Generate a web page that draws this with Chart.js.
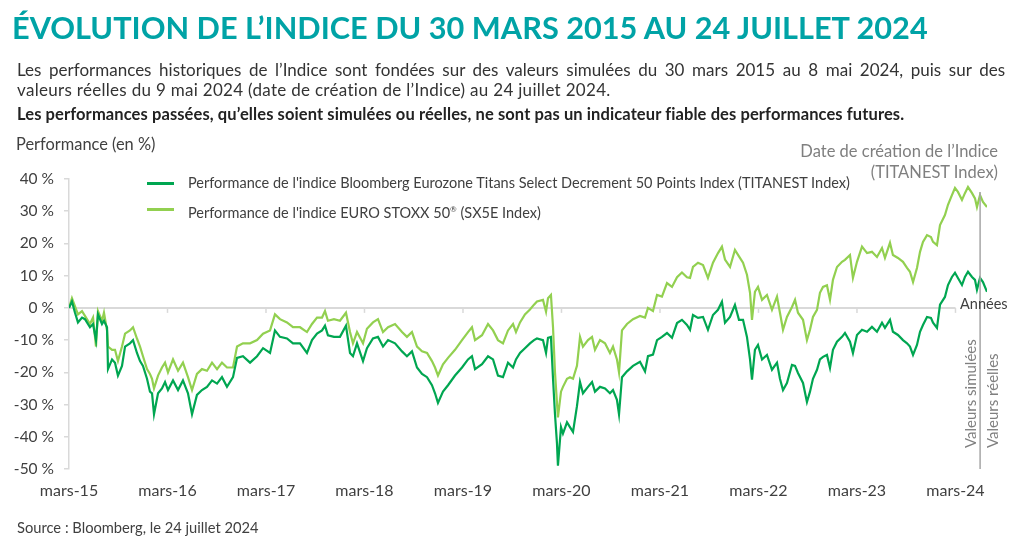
<!DOCTYPE html>
<html><head><meta charset="utf-8">
<script src="https://cdn.jsdelivr.net/npm/chart.js@4.4.1/dist/chart.umd.min.js"></script>
<style>
body{margin:0;background:#fff;font-family:Lato,"Noto Sans",sans-serif;}
#wrap{position:relative;width:1016px;height:542px;overflow:hidden;background:#fff;}
canvas{position:absolute;left:0;top:0;}
.t{position:absolute;white-space:nowrap;color:#404040;z-index:2;}
#title{left:12px;top:8px;font-size:30.7px;font-weight:700;color:#00A3A6;line-height:40px;}
#p1{left:17px;top:60px;width:988px;font-size:17px;letter-spacing:0.3px;color:#333;line-height:20px;white-space:normal;}
#p1 .l1{display:block;text-align:justify;text-align-last:justify;letter-spacing:0;}
#p2{left:17px;top:104px;font-size:16.5px;letter-spacing:0.1px;font-weight:700;color:#222;line-height:20px;}
#ytitle{left:16px;top:135px;font-size:16.4px;line-height:18px;}
.leg{left:147px;font-size:14.5px;line-height:18px;}
.leg i{position:absolute;left:0;top:8px;width:27px;height:2.5px;}
.leg span{position:absolute;left:41px;top:0;}
#creation{right:18px;top:141px;font-size:16.5px;line-height:21px;text-align:right;color:#7f7f7f;}
#annees{left:960px;top:295px;font-size:14.5px;line-height:18px;}
.rot{top:448px;font-size:15px;line-height:18px;color:#7f7f7f;transform-origin:0 0;transform:rotate(-90deg);}
#source{left:17px;top:518px;font-size:14.7px;line-height:18px;}
</style></head>
<body><div id="wrap">
<canvas id="c" width="1016" height="542"></canvas>
<div class="t" id="title">ÉVOLUTION DE L’INDICE DU 30 MARS 2015 AU 24 JUILLET 2024</div>
<div class="t" id="p1"><span class="l1">Les performances historiques de l’Indice sont fondées sur des valeurs simulées du 30 mars 2015 au 8 mai 2024, puis sur des</span>valeurs réelles du 9 mai 2024 (date de création de l’Indice) au 24 juillet 2024.</div>
<div class="t" id="p2">Les performances passées, qu’elles soient simulées ou réelles, ne sont pas un indicateur fiable des performances futures.</div>
<div class="t" id="ytitle">Performance (en %)</div>
<div class="t leg" id="leg1" style="top:174px"><i style="background:#00A651"></i><span>Performance de l'indice Bloomberg Eurozone Titans Select Decrement 50 Points Index (TITANEST Index)</span></div>
<div class="t leg" id="leg2" style="top:200px"><i style="background:#92D050"></i><span>Performance de l'indice EURO STOXX 50<sup style="font-size:8px">®</sup> (SX5E Index)</span></div>
<div class="t" id="creation">Date de création de l’Indice<br>(TITANEST Index)</div>
<div class="t" id="annees">Années</div>
<div class="t rot" style="left:961px">Valeurs simulées</div>
<div class="t rot" style="left:983px">Valeurs réelles</div>
<div class="t" id="source">Source : Bloomberg, le 24 juillet 2024</div>
</div>
<script>
// ---- data (years since 30 March 2015, performance in %) ----
const xTickLabels = ["mars-15","mars-16","mars-17","mars-18","mars-19","mars-20","mars-21","mars-22","mars-23","mars-24"];
const yTickValues = [-50,-40,-30,-20,-10,0,10,20,30,40];
const creationYear = 9.25;
const seriesNames = [
  "Performance de l'indice Bloomberg Eurozone Titans Select Decrement 50 Points Index (TITANEST Index)",
  "Performance de l'indice EURO STOXX 50® (SX5E Index)"
];
const yearsSinceStart = [
0,0.030,0.061,0.091,0.132,0.162,0.213,0.244,0.274,0.294,0.335,0.355,0.386,0.396,0.437,0.467,0.497,0.538,0.569,0.619,
0.650,0.690,0.721,0.751,0.792,0.822,0.843,0.863,0.904,0.944,0.975,1.005,1.056,1.107,1.157,1.208,1.249,1.299,1.350,1.401,
1.452,1.503,1.553,1.604,1.665,1.706,1.766,1.838,1.909,1.970,2.041,2.091,2.142,2.213,2.274,2.345,2.416,2.467,2.518,2.569,
2.599,2.629,2.690,2.751,2.812,2.853,2.883,2.924,2.985,3.025,3.086,3.137,3.188,3.239,3.310,3.381,3.431,3.482,3.533,3.584,
3.635,3.685,3.716,3.746,3.797,3.848,3.919,3.990,4.051,4.091,4.122,4.193,4.254,4.305,4.355,4.406,4.457,4.508,4.538,4.579,
4.629,4.680,4.721,4.751,4.812,4.843,4.863,4.893,4.914,4.934,4.954,4.964,4.995,5.015,5.056,5.086,5.117,5.157,5.188,5.218,
5.269,5.310,5.340,5.391,5.442,5.492,5.523,5.563,5.584,5.614,5.665,5.726,5.797,5.848,5.878,5.929,5.970,6.020,6.071,6.122,
6.173,6.223,6.274,6.305,6.335,6.386,6.437,6.487,6.538,6.589,6.629,6.660,6.711,6.761,6.802,6.843,6.883,6.914,6.934,6.964,
6.995,7.036,7.086,7.137,7.188,7.218,7.249,7.289,7.340,7.371,7.401,7.452,7.492,7.523,7.553,7.594,7.624,7.655,7.695,7.726,
7.756,7.797,7.848,7.878,7.929,7.959,8.000,8.051,8.102,8.152,8.203,8.254,8.284,8.335,8.365,8.416,8.467,8.508,8.538,8.569,
8.609,8.640,8.670,8.711,8.751,8.772,8.812,8.843,8.893,8.924,8.964,8.995,9.025,9.066,9.096,9.127,9.168,9.198,9.218,9.249,
9.279,9.320
];
const sx5e = [
0,3,0.5,-2,-1,-2.5,-5,-3,-12,-1,-4,-1.5,-7,-12,-13,-13,-16.5,-12,-8,-7,
-6,-9.5,-12,-15,-19,-20.5,-22,-25,-21,-18.5,-17,-20,-16,-19.5,-17,-21.5,-25.5,-20.5,-19,-19.5,
-17,-19,-17,-18.5,-18.5,-12,-11,-11,-10,-8,-7,-2,-3.5,-4.5,-6,-6,-7.5,-5,-3,-3,
-1,-4,-3.5,-4,-1.5,-7.5,-11,-7.5,-11,-6.5,-4.5,-3.5,-7.5,-6,-5,-7.5,-9,-7.5,-12,-13.5,
-14,-16.5,-18.5,-21,-17.5,-15.5,-13,-10,-7.5,-6,-10,-8.5,-5,-7,-10,-11,-7,-5,-7.5,-4.5,
-2,-0.5,1,2,2.5,-1.2,3,4,-6,-20,-29.5,-34,-26,-24.5,-22,-21.5,-22,-18,-9,-12,
-10,-9,-13,-10,-11,-14,-12,-16,-20,-7,-5,-3.5,-2.5,-3,0,-1,4,3.5,7.7,6.5,
9.5,11,9.5,9.3,12.7,14,13.3,9.3,14,17,19,15,12.7,18,16,14,10.3,4.7,-3.7,5,
6.5,2.5,4,-0.6,3.5,-1.5,-6.8,-2.8,0.3,2.5,-1.5,-3.7,-10,-6.8,-2.8,-0.6,4.7,6.5,7,2.5,
8.7,12.7,14.3,14.9,16.4,9.3,14.3,19,17,17.4,15.8,18.6,15.5,20.2,16.4,15.5,14.3,12.4,11.2,8,
12.4,17.4,20.5,22.6,22,20.5,19.5,25.7,28.8,32,35,37.2,36,33.5,35.6,37.5,35.6,34,31.3,35,
32.9,31.3
];
const titanest = [
0,2,-1.5,-4.5,-3,-3.5,-6,-5,-10,-2,-5,-4,-6,-19,-16,-17,-21,-18,-12,-11,
-10,-14,-16.5,-18,-22,-26,-26.5,-33,-26.5,-25,-23,-25.5,-22.5,-25.5,-22.5,-26.5,-33,-27,-25.5,-24.5,
-22.5,-23.5,-21.5,-24.5,-21.5,-15.5,-15,-17,-15,-12.5,-14,-7,-9,-9.5,-11,-11,-14,-10,-8,-7,
-5.5,-8.5,-9,-9,-5.5,-14,-15,-11,-16.5,-12.5,-9.5,-9,-12,-10,-11,-13.5,-15,-13.5,-18.5,-20.5,
-21.5,-24,-26.5,-29.5,-26,-24,-21,-18.5,-16,-15,-19,-17.5,-15,-16,-21,-21.5,-17,-18.5,-16,-14,
-12.5,-11,-10,-9.5,-10,-14,-9.3,-9,-22,-33,-42,-49,-37,-39,-35.5,-37,-38.5,-30.5,-23,-26.5,
-24.5,-23,-26,-24.5,-25,-26.5,-25.5,-28.5,-33,-21.5,-19.7,-18,-16.7,-19.7,-15,-14.5,-10,-9,-7.8,-9.3,
-4.7,-3.7,-5.3,-6.8,-2.2,-3.1,-2.8,-6.8,-2.2,-0.6,1.9,-4.6,-2.8,0.9,-3.7,-3.7,-9,-16,-22.3,-13,
-11.5,-16,-14.6,-19.2,-17,-22,-25.5,-23.3,-17.7,-18,-20.2,-23.3,-29.2,-26,-22,-19.2,-16,-15.2,-14.6,-18.6,
-13,-10.5,-9,-7.8,-10.5,-14,-8.4,-6.8,-7.4,-5.9,-7.4,-4.6,-6.2,-3.7,-7.4,-8.4,-10,-11,-12,-14.6,
-11.5,-7.4,-5.3,-2.8,-3.1,-4.6,-6.2,1,3.4,7.1,9.6,10.9,9.3,7.1,9.6,11.2,9.6,8.7,5.6,9.3,
8,5
];

const FONT = 'Lato, "Noto Sans", sans-serif';
const C_DARK = '#00A651', C_LIGHT = '#92D050', C_AXIS = '#d9d9d9';

const overlay = {
  id: 'overlay',
  beforeDatasetsDraw(chart) {
    const {ctx, scales:{x, y}} = chart;
    const y0 = y.getPixelForValue(0);
    ctx.save();
    ctx.strokeStyle = C_AXIS; ctx.lineWidth = 2;
    ctx.beginPath();
    ctx.moveTo(x.getPixelForValue(0), y0);
    ctx.lineTo(x.getPixelForValue(xTickLabels.length - 1), y0);
    ctx.stroke();
    ctx.lineWidth = 1.5;
    for (let i = 1; i < xTickLabels.length; i++) {
      const px = x.getPixelForValue(i);
      ctx.beginPath(); ctx.moveTo(px, y0); ctx.lineTo(px, y0 + 5); ctx.stroke();
    }
    ctx.restore();
  },
  afterDatasetsDraw(chart) {
    const {ctx, scales:{x, y}} = chart;
    const px = x.getPixelForValue(creationYear);
    ctx.save();
    ctx.strokeStyle = '#a6a6a6'; ctx.lineWidth = 1.5;
    ctx.beginPath(); ctx.moveTo(px, y.top + 13); ctx.lineTo(px, y.bottom); ctx.stroke();
    ctx.restore();
  }
};

new Chart(document.getElementById('c'), {
  type: 'line',
  data: {
    datasets: [
      { label: seriesNames[0], data: yearsSinceStart.map((v, i) => ({x: v, y: titanest[i]})),
        borderColor: C_DARK, borderWidth: 2.2, pointRadius: 0, tension: 0 },
      { label: seriesNames[1], data: yearsSinceStart.map((v, i) => ({x: v, y: sx5e[i]})),
        borderColor: C_LIGHT, borderWidth: 2.2, pointRadius: 0, tension: 0 }
    ]
  },
  options: {
    responsive: false, animation: false,
    layout: { padding: { top: 179, right: 29, left: 0, bottom: 0 } },
    plugins: { legend: { display: false }, tooltip: { enabled: false } },
    scales: {
      x: {
        type: 'linear', min: 0, max: 9.32,
        grid: { display: false, drawTicks: false }, border: { display: false },
        afterBuildTicks(s) { s.ticks = xTickLabels.map((_, i) => ({value: i})); },
        ticks: { autoSkip: false, maxRotation: 0, padding: 12, color: '#404040',
                 font: { family: FONT, size: 16 }, callback: v => xTickLabels[Math.round(v)] },
        afterFit(s) { s.height = 73; }
      },
      y: {
        min: -50, max: 40,
        afterBuildTicks(s) { s.ticks = yTickValues.map(v => ({value: v})); },
        ticks: { color: '#404040', padding: 10, font: { family: FONT, size: 15.5 }, callback: v => v + ' %' },
        grid: { drawOnChartArea: false, drawTicks: true, tickLength: 5, color: C_AXIS, lineWidth: 1.5 },
        border: { display: true, color: C_AXIS, width: 1.5 },
        afterFit(s) { s.width = 69; }
      }
    }
  },
  plugins: [overlay]
});
</script>
</body></html>
